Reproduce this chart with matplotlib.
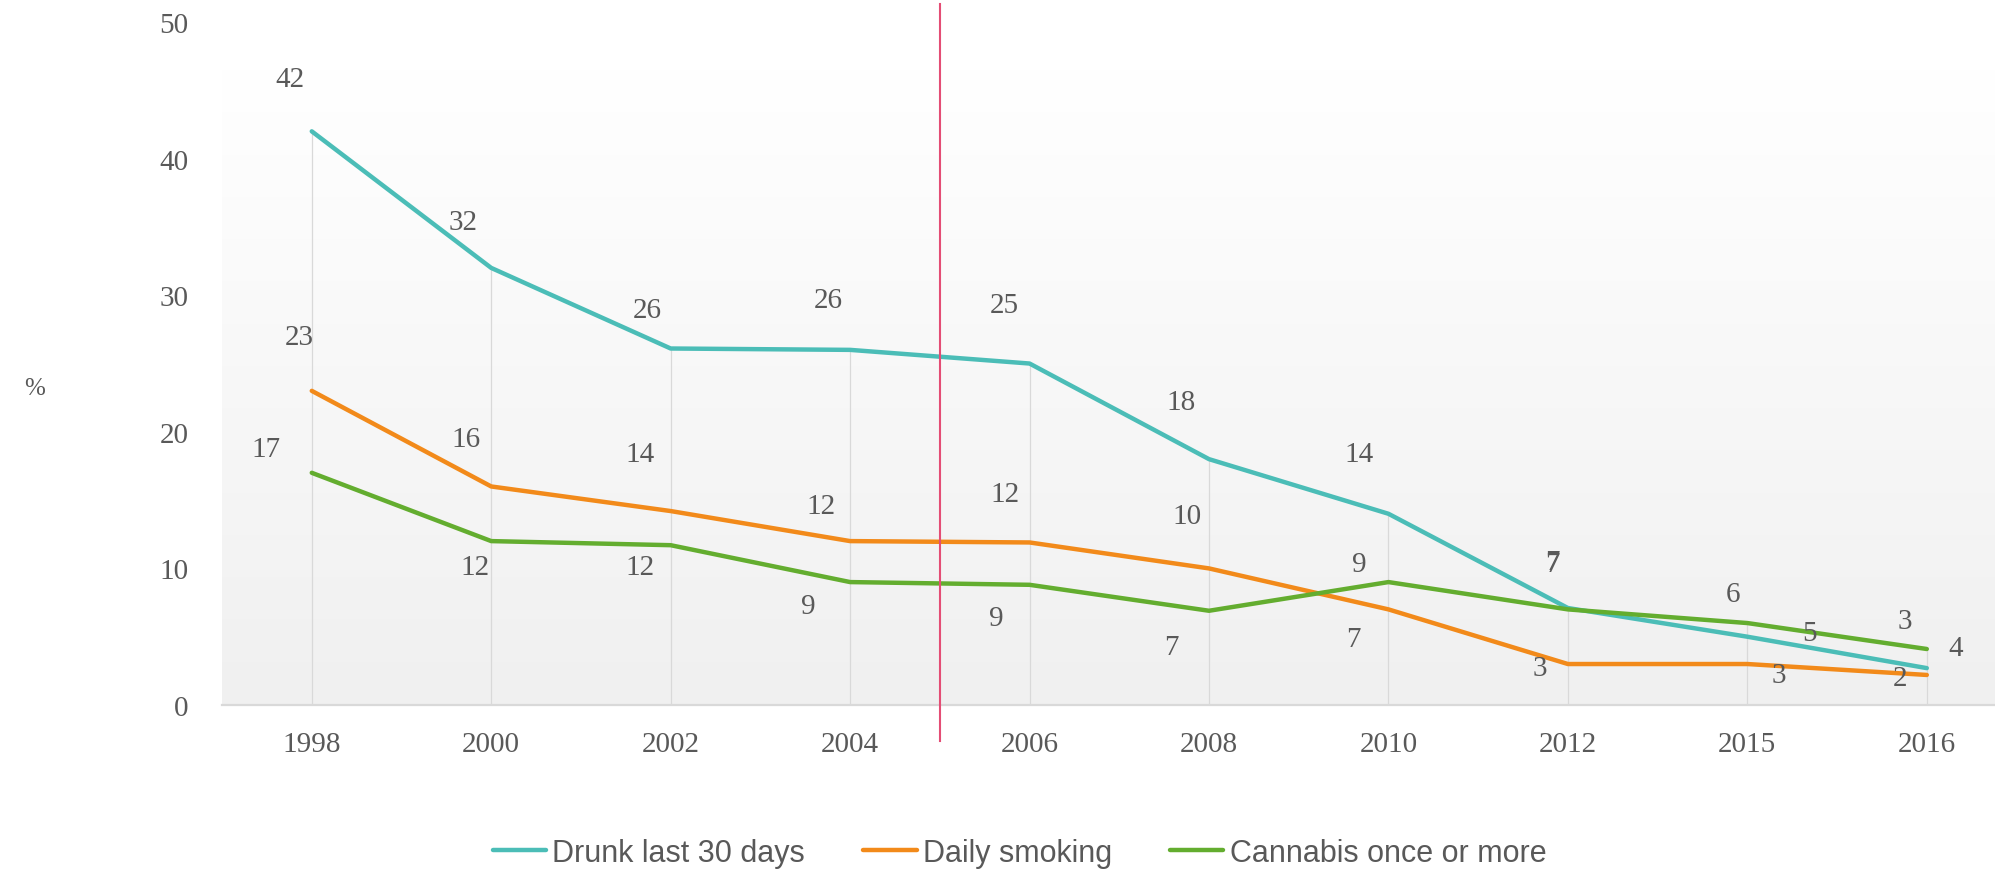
import numpy as np
import matplotlib
matplotlib.use('Agg')
import matplotlib.pyplot as plt

# Datos del grafico
years = ['1998', '2000', '2002', '2004', '2006', '2008', '2010', '2012', '2015', '2016']
drunk = [42, 32, 26.1, 26, 25, 18, 14, 7.1, 5, 2.7]
smoking = [23, 16, 14.2, 12, 11.9, 10, 7, 3, 3, 2.2]
cannabis = [17, 12, 11.7, 9, 8.8, 6.9, 9, 7, 6, 4.1]

# Desplazamiento de las etiquetas (puntos)
off_drunk = [(-16, 38), (-20, 33), (-17, 28), (-16, 36), (-18, 42), (-20, 41), (-21, 43), (-11, 33), (45, 3), (-16, 34)]
off_smoking = [(-9, 39), (-18, 34), (-22, 41), (-21, 25), (-18, 35), (-16, 38), (-25, -21), (-20, -3), (23, -8), (-19, -2)]
off_cannabis = [(-33, 17), (-12, -19), (-22, -16), (-30, -17), (-24, -24), (-27, -26), (-21, 13), (-11, 33), (-10, 21), (21, 1)]

c_drunk = '#4bbdb7'
c_smoking = '#f28a1a'
c_cannabis = '#63ad2f'
txt = '#595959'
serif = 'Liberation Serif'

fig = plt.figure(figsize=(19.95, 8.7), dpi=100)
ax = fig.add_axes([0.1113, 0.1885, 0.8887, 0.785])

x = np.arange(len(years))
ax.set_xlim(-0.5, 9.38)
ax.set_ylim(0, 50)

# Fondo degradado (blanco arriba, gris abajo)
grad = np.linspace(0.0, 1.0, 256).reshape(-1, 1)
cmap = matplotlib.colors.LinearSegmentedColormap.from_list('g', ['#f0f0f0', '#ffffff'])
ax.imshow(grad, extent=[-0.5, 9.38, 0, 46.5], origin='lower', aspect='auto',
          cmap=cmap, vmin=0, vmax=1, zorder=0)

# Lineas de caida
tops = np.maximum(np.maximum(drunk, smoking), cannabis)
ax.vlines(x, 0, tops, color='#d9d9d9', lw=0.9, zorder=1)

ax.plot(x, drunk, color=c_drunk, lw=3.2, label='Drunk last 30 days', zorder=3, solid_capstyle='round')
ax.plot(x, smoking, color=c_smoking, lw=3.2, label='Daily smoking', zorder=3, solid_capstyle='round')
ax.plot(x, cannabis, color=c_cannabis, lw=3.2, label='Cannabis once or more', zorder=3, solid_capstyle='round')

for serie, offs in [(drunk, off_drunk), (smoking, off_smoking), (cannabis, off_cannabis)]:
    for i, v in enumerate(serie):
        ax.annotate(f'{v:.0f}', (x[i], v), xytext=offs[i], textcoords='offset points',
                    ha='center', va='center', fontsize=21, color=txt, family=serif, zorder=4)

# Linea roja vertical
ax.axvline(3.5, ymin=-0.053, ymax=1.027, color='#e44d75', lw=1.5, clip_on=False, zorder=5)

ax.set_xticks(x)
ax.set_xticklabels(years, fontsize=21, color=txt, family=serif)
ax.set_yticks([0, 10, 20, 30, 40, 50])
ax.set_yticklabels(['0', '10', '20', '30', '40', '50'], fontsize=21, color=txt, family=serif)
ax.tick_params(axis='x', length=0, pad=19)
ax.tick_params(axis='y', length=0, pad=24)
for s in ['top', 'right', 'left']:
    ax.spines[s].set_visible(False)
ax.spines['bottom'].set_color('#d9d9d9')
ax.spines['bottom'].set_linewidth(1.6)

fig.text(0.012, 0.553, '%', fontsize=18, color=txt, family=serif, va='center')

fig.legend(loc='lower center', bbox_to_anchor=(0.511, -0.03), ncol=3, frameon=False,
           handlelength=1.75, handletextpad=0.2, columnspacing=1.9,
           labelcolor=txt, prop={'family': 'Liberation Sans', 'size': 22})

fig.savefig('out.png', dpi=100)
